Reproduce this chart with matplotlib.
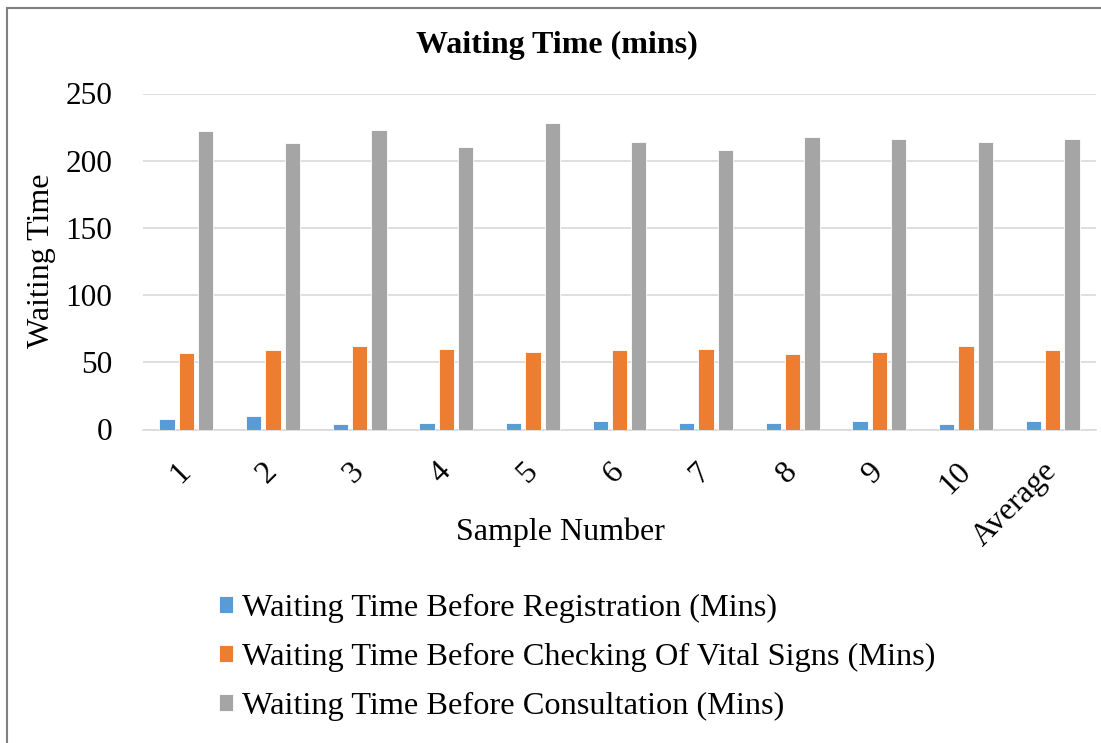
import matplotlib.pyplot as plt
import numpy as np
from matplotlib.patches import Rectangle

plt.rcParams['font.family'] = ['Liberation Serif', 'DejaVu Serif']

samples = ['1', '2', '3', '4', '5', '6', '7', '8', '9', '10', 'Average']
registration = [8, 10, 4, 5, 5, 6, 5, 5, 6, 4, 6]
vital_signs = [57, 59.5, 62, 60, 58, 59.5, 60, 56.5, 58, 62, 59.5]
consultation = [222, 213, 223, 210, 228, 214, 208, 217.5, 216, 214, 216.5]

series_labels = ['Waiting Time Before Registration (Mins)',
                 'Waiting Time Before Checking Of Vital Signs (Mins)',
                 'Waiting Time Before Consultation (Mins)']
colors = ['#5B9BD5', '#ED7D31', '#A5A5A5']

W, H = 1101, 743
fig = plt.figure(figsize=(W / 100, H / 100), dpi=100)
ax = fig.add_axes([143 / W, 1 - 429.5 / H, (1096 - 143) / W, (429.5 - 93.5) / H])

x = np.arange(len(samples))
step = 0.223
width = 0.177
bars = []
for i, (vals, c) in enumerate(zip([registration, vital_signs, consultation], colors)):
    b = ax.bar(x + (i - 1) * step, vals, width, color=c, edgecolor='white', linewidth=0.6,
               label=series_labels[i], zorder=3)
    bars.append(b)

ax.set_xlim(-0.5, len(samples) - 0.5)
ax.set_ylim(0, 250)
ax.set_yticks(np.arange(0, 251, 50))
ax.grid(axis='y', color='#D9D9D9', linewidth=1.2, zorder=0)
for s in ['top', 'right', 'left']:
    ax.spines[s].set_visible(False)
ax.spines['bottom'].set_color('#D9D9D9')
ax.spines['bottom'].set_linewidth(1.2)
ax.tick_params(length=0)
ax.tick_params(axis='y', labelsize=22.5, pad=22)
ax.set_xticks(x)
ax.set_xticklabels(samples, rotation=45, ha='right', va='center',
                   rotation_mode='anchor', fontsize=23)
ax.tick_params(axis='x', pad=27)

fig.text(557 / W, 1 - 45 / H, 'Waiting Time (mins)', ha='center', va='center',
         fontsize=23, fontweight='bold')
fig.text(560 / W, 1 - 532 / H, 'Sample Number', ha='center', va='center', fontsize=23)
fig.text(42 / W, 1 - 261 / H, 'Waiting Time', ha='center', va='center',
         rotation=90, fontsize=23)

fig.legend(handles=bars, labels=series_labels, loc='upper left',
           bbox_to_anchor=(219 / W, 1 - 594 / H), frameon=False, fontsize=23.3,
           handlelength=0.42, handleheight=0.42, handletextpad=0.3,
           labelspacing=0.62, borderpad=0, borderaxespad=0)

fig.patches.append(Rectangle((7 / W, -0.1), 1.2, 1 - 8 / H + 0.1, transform=fig.transFigure,
                             fill=False, edgecolor='#7F7F7F', linewidth=1.5))

fig.savefig('out.png', dpi=100)
